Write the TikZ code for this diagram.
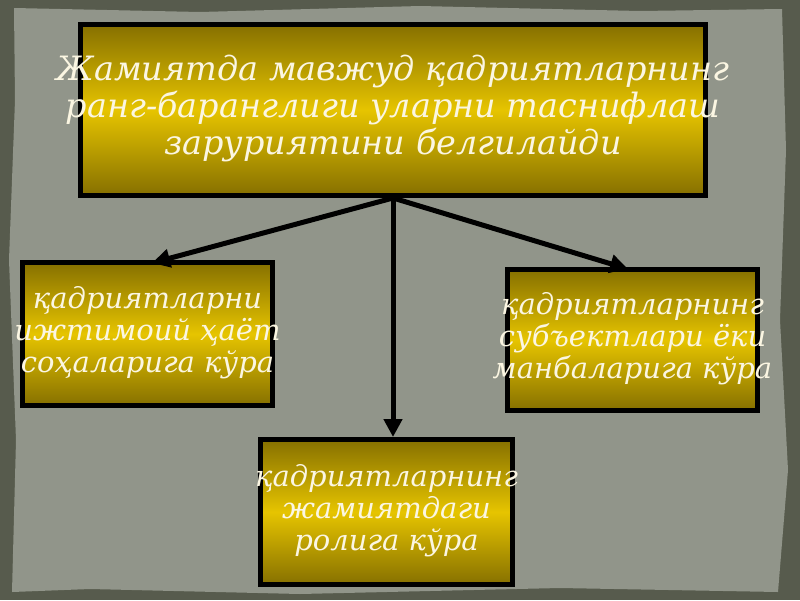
\documentclass[tikz,border=0pt]{standalone}
\usepackage{fontspec}
\setmainfont{DejaVu Serif}
\usetikzlibrary{arrows.meta}

\definecolor{frame}{HTML}{575B4D}
\definecolor{paper}{HTML}{91958A}
\definecolor{golddark}{HTML}{867000}
\definecolor{goldlight}{HTML}{E6C400}
\definecolor{cream}{HTML}{FBF6E2}

% text that may run over the edges of its box
\newcommand{\overtext}[1]{\makebox[0pt]{\begin{tabular}{@{}c@{}}#1\end{tabular}}}

\begin{document}
\begin{tikzpicture}
  [x=1pt,y=-1pt,
   every node/.style={draw=black,line width=5pt,inner sep=0pt,
     top color=golddark,bottom color=golddark,middle color=goldlight,
     text=cream,font=\itshape\fontsize{29}{32}\selectfont},
   big/.style={font=\itshape\fontsize{33.5}{35}\selectfont},
   link/.style={line width=5pt,-{Triangle[length=18pt,width=18pt]}}]

  % background
  \useasboundingbox (0,0) rectangle (800,600);
  \fill[frame] (0,0) rectangle (800,600);
  \fill[paper] (14,8) -- (200,12) -- (420,6) -- (640,11) -- (782,9)
    -- (786,150) -- (780,320) -- (788,470) -- (778,592)
    -- (560,588) -- (300,594) -- (90,589) -- (12,592)
    -- (16,440) -- (9,260) -- (15,100) -- cycle;

  \node[big,minimum width=625pt,minimum height=171pt] (root) at (393,110)
    {\overtext{Жамиятда мавжуд қадриятларнинг\\ранг-баранглиги уларни таснифлаш\\заруриятини белгилайди}};
  \node[minimum width=250pt,minimum height=143pt] (social) at (147.5,334)
    {\overtext{қадриятларни\\ижтимоий ҳаёт\\соҳаларига кўра}};
  \node[minimum width=250pt,minimum height=141pt] (subject) at (632.5,340)
    {\overtext{қадриятларнинг\\субъектлари ёки\\манбаларига кўра}};
  \node[minimum width=252pt,minimum height=145pt] (role) at (386.5,512)
    {\overtext{қадриятларнинг\\жамиятдаги\\ролига кўра}};

  \coordinate (fork) at (393,198);
  \coordinate (socialin) at (152,263);
  \coordinate (subjectin) at (628,269);
  \coordinate (rolein) at (393,437);

  \foreach \to in {socialin,rolein,subjectin}
    \draw[link] (fork) -- (\to);

\end{tikzpicture}
\end{document}
